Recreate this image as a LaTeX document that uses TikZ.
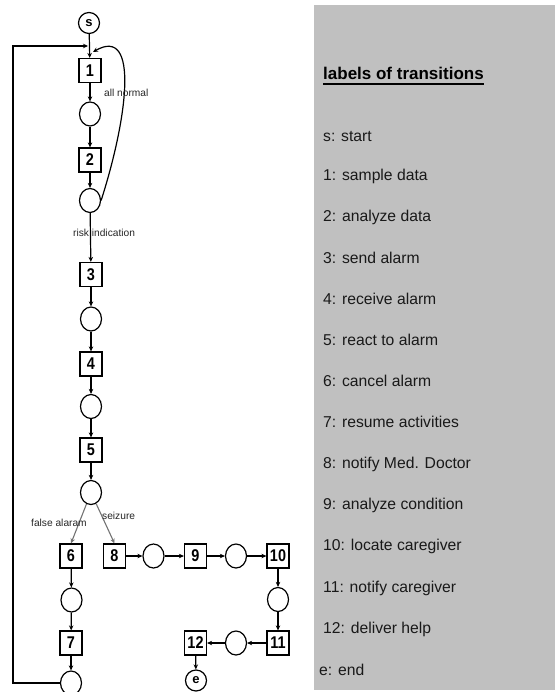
\documentclass[tikz,border=0pt]{standalone}
\usepackage{fontspec}
\setmainfont{Liberation Sans}
\newfontfamily\narrowbold[FakeStretch=0.85]{Liberation Sans}
\usetikzlibrary{arrows.meta,shapes.geometric}
\definecolor{panelgray}{HTML}{C0C0C0}
\begin{document}
\begin{tikzpicture}[x=1pt,y=-1pt,
  tbox/.style={draw, line width=1.2pt, minimum width=22pt, minimum height=24pt, inner sep=0pt, font=\narrowbold\fontsize{17}{17}\selectfont\bfseries},
  place/.style={draw, ellipse, line width=1.2pt, minimum width=21pt, minimum height=24pt, inner sep=0pt},
  term/.style={draw, circle, line width=1.2pt, minimum size=21pt, inner sep=0pt, font=\fontsize{13}{13}\selectfont\bfseries},
  arr/.style={-{Stealth[length=5pt,width=4.5pt]}, line width=1.2pt},
  garr/.style={-{Stealth[length=5pt,width=4.5pt]}, line width=1.1pt, draw=black!55},
  lbl/.style={font=\fontsize{10.2}{12}\selectfont, text=black!85, inner sep=0pt},
  leg/.style={anchor=base west, inner sep=0pt, font=\fontsize{15.7}{18}\selectfont, text=black!90}
]
\useasboundingbox (0,0) rectangle (555,692);
\fill[panelgray] (314,5) rectangle (555,690);

% main chain
\node[term] (s) at (89,23) {s};
\node[tbox] (t1) at (90,70.5) {1};
\node[place] (p1) at (90,114) {};
\node[tbox] (t2) at (90,160) {2};
\node[place] (p2) at (90,200.5) {};
\node[tbox] (t3) at (91,274.5) {3};
\node[place] (p3) at (91,319) {};
\node[tbox] (t4) at (91,364) {4};
\node[place] (p4) at (91,406.5) {};
\node[tbox] (t5) at (91,450) {5};
\node[place] (p5) at (91,492.5) {};
% false alarm branch
\node[tbox] (t6) at (71,556) {6};
\node[place] (p6) at (71.5,600) {};
\node[tbox] (t7) at (71,643) {7};
\node[place] (p7) at (71,683) {};
% seizure branch
\node[tbox] (t8) at (114.5,556) {8};
\node[place] (p8) at (153.5,556) {};
\node[tbox] (t9) at (195.5,556) {9};
\node[place] (p9) at (236,556) {};
\node[tbox] (t10) at (278,556) {10};
\node[place] (p10) at (278,599.5) {};
\node[tbox] (t11) at (278,643) {11};
\node[place] (p11) at (236,643) {};
\node[tbox] (t12) at (195.5,643) {12};
\node[term] (e) at (196,680.5) {e};

\coordinate (lx) at (13,46);
\coordinate (j1) at (88,46);
\coordinate (j2) at (93,52);

% connectors
\draw[arr] (s) -- (t1);
\draw[arr] (t1) -- (p1);
\draw[arr] (p1) -- (t2);
\draw[arr] (t2) -- (p2);
\draw[arr] (p2) -- (t3);
\draw[arr] (t3) -- (p3);
\draw[arr] (p3) -- (t4);
\draw[arr] (t4) -- (p4);
\draw[arr] (p4) -- (t5);
\draw[arr] (t5) -- (p5);
\draw[garr] (p5) -- (t6.north);
\draw[garr] (p5) -- (t8.north);
\draw[arr] (t6) -- (p6);
\draw[arr] (p6) -- (t7);
\draw[arr] (t7) -- (p7);
\draw[arr] (t8) -- (p8);
\draw[arr] (p8) -- (t9);
\draw[arr] (t9) -- (p9);
\draw[arr] (p9) -- (t10);
\draw[arr] (t10) -- (p10);
\draw[arr] (p10) -- (t11);
\draw[arr] (t11) -- (p11);
\draw[arr] (p11) -- (t12);
\draw[arr] (t12) -- (e);
\draw[arr] (p7.west) -| (lx) -- (j1);
\draw[arr] (p2.east) .. controls (127,120) and (140,25) .. (j2);

% arc labels
\node[lbl, anchor=west] (lan) at (104,93) {all normal};
\node[lbl, anchor=west] (lri) at (73,233) {risk indication};
\node[lbl, anchor=west] (lfa) at (31,523) {false alaram};
\node[lbl, anchor=west] (lsz) at (102,516) {seizure};

% legend
\node[anchor=base west, inner sep=0pt, font=\fontsize{17}{20}\selectfont\bfseries] (title) at (323,80) {labels of transitions};
\draw[line width=2pt] ([yshift=-4pt]title.base west) -- ([yshift=-4pt]title.base east);
\node[leg] (ls) at (323,141.5) {s: start};
\node[leg] (l1) at (323,181) {1: sample data};
\node[leg] (l2) at (323,222) {2: analyze data};
\node[leg] (l3) at (323,263.2) {3: send alarm};
\node[leg] (l4) at (323,304.3) {4: receive alarm};
\node[leg] (l5) at (323,345.4) {5: react to alarm};
\node[leg] (l6) at (323,386.5) {6: cancel alarm};
\node[leg] (l7) at (323,427.6) {7: resume activities};
\node[leg] (l8) at (323,468.7) {8: notify Med. Doctor};
\node[leg] (l9) at (323,509.8) {9: analyze condition};
\node[leg] (l10) at (323,550.9) {10: locate caregiver};
\node[leg] (l11) at (323,592) {11: notify caregiver};
\node[leg] (l12) at (323,633) {12: deliver help};
\node[leg] (le) at (319,675) {e: end};
\end{tikzpicture}
\end{document}
